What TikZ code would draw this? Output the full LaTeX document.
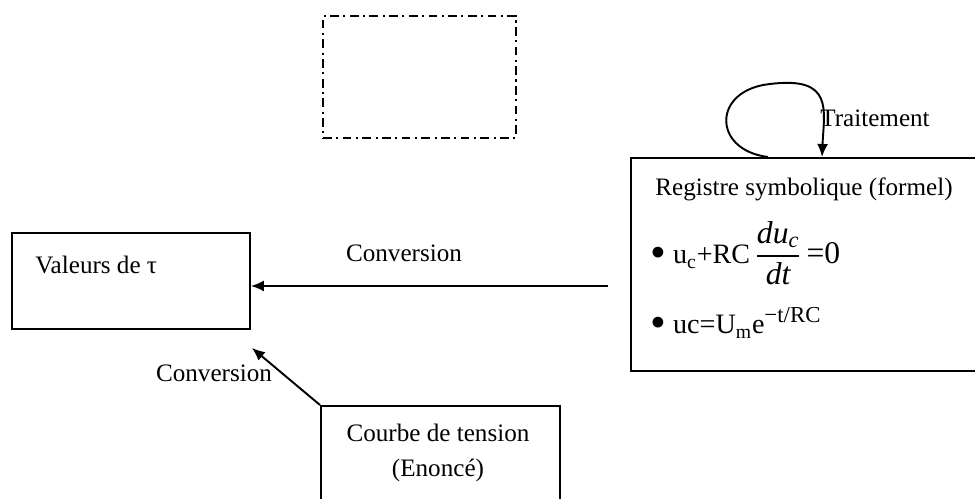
\documentclass[tikz,border=0pt]{standalone}
\usepackage{amsmath}
\usepackage{fontspec}
\setmainfont{Liberation Serif}
\usetikzlibrary{arrows.meta,positioning,calc}
\newcommand{\puce}{\raisebox{-0.12em}{\scalebox{1.6}{\textbullet}}}

\begin{document}
\begin{tikzpicture}[x=0.02cm,y=-0.02cm,
  font=\fontsize{14.3}{17}\selectfont,
  boite/.style={draw,line width=1.1pt,anchor=north west,inner sep=0pt},
  cadre/.style={draw,line width=1.1pt,anchor=north west,inner sep=0pt,
                dash pattern=on 5pt off 2.5pt on 1.2pt off 2.5pt},
  fleche/.style={-{Latex[length=2.6mm,width=2.2mm]},line width=1.1pt},
  txt/.style={inner sep=0pt},
  eqn/.style={inner sep=0pt,anchor=west,font=\fontsize{16}{19}\selectfont}]
\useasboundingbox (0,0) rectangle (975,498);
\clip (0,0) rectangle (975,498);
% boites
\node[cadre,minimum width=3.86cm,minimum height=2.44cm] (cadre) at (322,15) {};
\node[boite,minimum width=4.76cm,minimum height=1.92cm] (valeurs) at (11,232) {};
\node[txt,anchor=west] (tvaleurs) at (35,265) {Valeurs de τ};
\node[boite,minimum width=7.2cm,minimum height=4.26cm] (registre) at (630,157) {};
\node[txt,anchor=west] (tregistre) at (655,189) {Registre symbolique (formel)};
\node[eqn] (eq1) at (650,253) {\puce\ u\textsubscript{c}+RC\,{\fontsize{18}{20}\selectfont$\dfrac{\textit{du}_{\textit{c}}}{\textit{dt}}$\,=0}};
\node[eqn] (eq2) at (650,323) {\puce\ uc=U\textsubscript{m}e\textsuperscript{\fontsize{13}{14}\selectfont−t/RC}};
\node[boite,minimum width=4.78cm,minimum height=2.2cm] (courbe) at (320,405) {};
\node[txt] (tcourbe) at (438,433) {Courbe de tension};
\node[txt] (tenonce) at (438,470) {(Enoncé)};
% conversions
\coordinate (convA) at ($(registre.west |- valeurs.east)+(-22,5)$);
\draw[fleche] (convA) -- (valeurs.east |- convA);
\node[txt] (lconvA) at (404,253) {Conversion};
\coordinate (tipB) at ($(valeurs.south east)+(1,18)$);
\draw[fleche] (courbe.north west) -- (tipB);
\node[txt] (lconvB) at (214,373) {Conversion};
% traitement
\coordinate (tdep) at ($(registre.north west)+(138,0)$);
\coordinate (tarr) at ($(registre.north west)+(192,0)$);
\draw[fleche] (tdep) .. controls (712,150) and (712,90) .. (770,84)
  .. controls (834,76) and (824,110) .. (tarr);
\node[txt,anchor=west] (ltrait) at (820,118) {Traitement};
\end{tikzpicture}
\end{document}
